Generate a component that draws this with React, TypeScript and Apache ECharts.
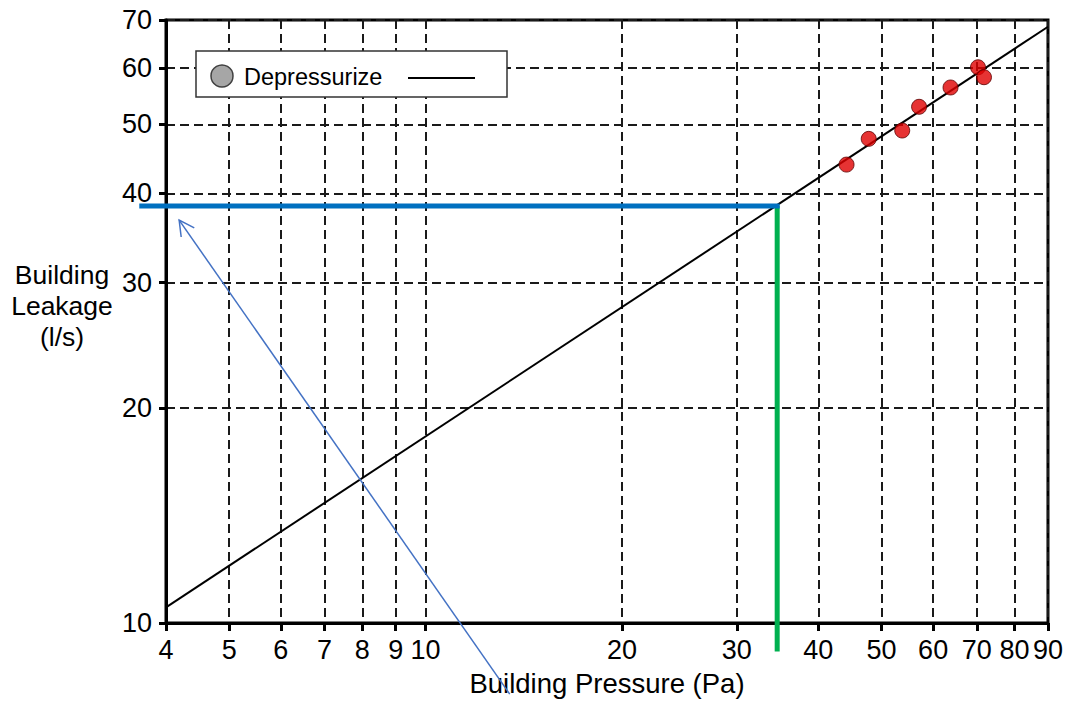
import React, { useEffect, useRef } from "react";
import * as echarts from "echarts";

// Tick labels
const xTicks = [4, 5, 6, 7, 8, 9, 10, 20, 30, 40, 50, 60, 70, 80, 90];
const yTicks = [10, 20, 30, 40, 50, 60, 70];

// Measured points (Depressurize)
const pressure = [44.2, 47.8, 53.8, 57.1, 63.8, 70.3, 71.8];
const leakage = [43.9, 47.7, 49.0, 52.9, 56.3, 60.1, 58.2];

// Fitted power-law line end points
const fitPressure = [4, 90];
const fitLeakage = [10.52, 68.5];

// Read-off annotation (blue horizontal / green vertical)
const readPressure = 34.6;
const readLeakage = 38.4;
const blueStartPressure = 3.64;
const greenEndLeakage = 9.12;

// Arrow annotation (tail -> head)
const arrowTail = [13.46, 7.95];
const arrowHead = [4.19, 36.7];

const lg = (v: number) => Math.log10(v);
const FONT = "'Liberation Sans', Arial, sans-serif";

export default function App() {
  const ref = useRef<HTMLDivElement>(null);
  useEffect(() => {
    if (!ref.current) return;
    const chart = echarts.init(ref.current, undefined, { renderer: "svg" });
    const fmt = (v: number) => String(Math.round(Math.pow(10, v)));
    const gridLine = { show: true, lineStyle: { color: "#1a1a1a", width: 2, type: [9, 5] as any } };
    chart.setOption({
      animation: false,
      backgroundColor: "#fff",
      grid: { left: 166, right: 16, top: 20, bottom: 72, show: true, borderColor: "#000", borderWidth: 3, backgroundColor: "transparent" },
      xAxis: {
        type: "value",
        min: lg(4),
        max: lg(90),
        name: "Building Pressure (Pa)",
        nameLocation: "middle",
        nameGap: 46,
        nameTextStyle: { fontFamily: FONT, fontSize: 27.5, color: "#000" },
        axisLine: { show: true, lineStyle: { color: "#000", width: 3 } },
        axisTick: { show: true, length: 8, lineStyle: { color: "#000", width: 3 }, customValues: xTicks.map(lg) },
        axisLabel: { customValues: xTicks.map(lg), formatter: fmt, fontFamily: FONT, fontSize: 27, color: "#000", margin: 13, showMinLabel: true, showMaxLabel: true },
        splitLine: gridLine,
      },
      yAxis: {
        type: "value",
        min: lg(10),
        max: lg(70),
        axisLine: { show: true, lineStyle: { color: "#000", width: 3 } },
        axisTick: { show: true, length: 7, lineStyle: { color: "#000", width: 3 }, customValues: yTicks.map(lg) },
        axisLabel: { customValues: yTicks.map(lg), formatter: fmt, fontFamily: FONT, fontSize: 27, color: "#000", margin: 14, showMinLabel: true, showMaxLabel: true },
        splitLine: gridLine,
      },
      series: [
        {
          type: "line",
          data: fitPressure.map((p, i) => [lg(p), lg(fitLeakage[i])]),
          showSymbol: false,
          lineStyle: { color: "#000", width: 2 },
          z: 3,
        },
        {
          type: "scatter",
          data: pressure.map((p, i) => [lg(p), lg(leakage[i])]),
          symbolSize: 15,
          itemStyle: { color: "#E00000", borderColor: "#5a0000", borderWidth: 1 },
          z: 4,
        },
      ],
    });

    const px = (x: number, y: number) => chart.convertToPixel({ gridIndex: 0 }, [lg(x), lg(y)]) as number[];
    const bStart = px(blueStartPressure, readLeakage);
    const corner = px(readPressure, readLeakage);
    const gEnd = px(readPressure, greenEndLeakage);
    const aT = px(arrowTail[0], arrowTail[1]);
    const aH = px(arrowHead[0], arrowHead[1]);
    const ang = Math.atan2(aT[1] - aH[1], aT[0] - aH[0]);
    const arm = 17;
    const spread = (28 * Math.PI) / 180;
    const arm1 = [aH[0] + arm * Math.cos(ang + spread), aH[1] + arm * Math.sin(ang + spread)];
    const arm2 = [aH[0] + arm * Math.cos(ang - spread), aH[1] + arm * Math.sin(ang - spread)];

    chart.setOption({
      graphic: [
        { type: "line", z: 10, shape: { x1: corner[0], y1: corner[1] - 0.5, x2: gEnd[0], y2: gEnd[1] }, style: { stroke: "#00B050", lineWidth: 5 } },
        { type: "line", z: 11, shape: { x1: bStart[0], y1: bStart[1], x2: corner[0] + 2.5, y2: corner[1] }, style: { stroke: "#0070C0", lineWidth: 5 } },
        { type: "line", z: 12, shape: { x1: aT[0], y1: aT[1], x2: aH[0], y2: aH[1] }, style: { stroke: "#4472C4", lineWidth: 1.5 } },
        { type: "polyline", z: 12, shape: { points: [arm1, aH, arm2] }, style: { stroke: "#4472C4", lineWidth: 1.5, fill: null } },
        {
          type: "text",
          z: 20,
          x: 62,
          y: 306,
          style: { text: "Building\nLeakage\n(l/s)", font: `26.5px ${FONT}`, fill: "#000", align: "center", verticalAlign: "middle", lineHeight: 31 },
        },
        {
          type: "group",
          z: 20,
          children: [
            { type: "rect", shape: { x: 196, y: 51, width: 311, height: 46 }, style: { fill: "#fff", stroke: "#333", lineWidth: 1.5 } },
            { type: "circle", shape: { cx: 222, cy: 76, r: 11 }, style: { fill: "#A6A6A6", stroke: "#404040", lineWidth: 1.5 } },
            { type: "text", x: 244, y: 77, style: { text: "Depressurize", font: `23.5px ${FONT}`, fill: "#000", verticalAlign: "middle", align: "left" } },
            { type: "line", shape: { x1: 408, y1: 78, x2: 475, y2: 78 }, style: { stroke: "#000", lineWidth: 2 } },
          ],
        },
      ],
    });

    return () => chart.dispose();
  }, []);
  return <div ref={ref} style={{ position: "fixed", left: 0, top: 0, width: 1066, height: 702, background: "#fff" }} />;
}
